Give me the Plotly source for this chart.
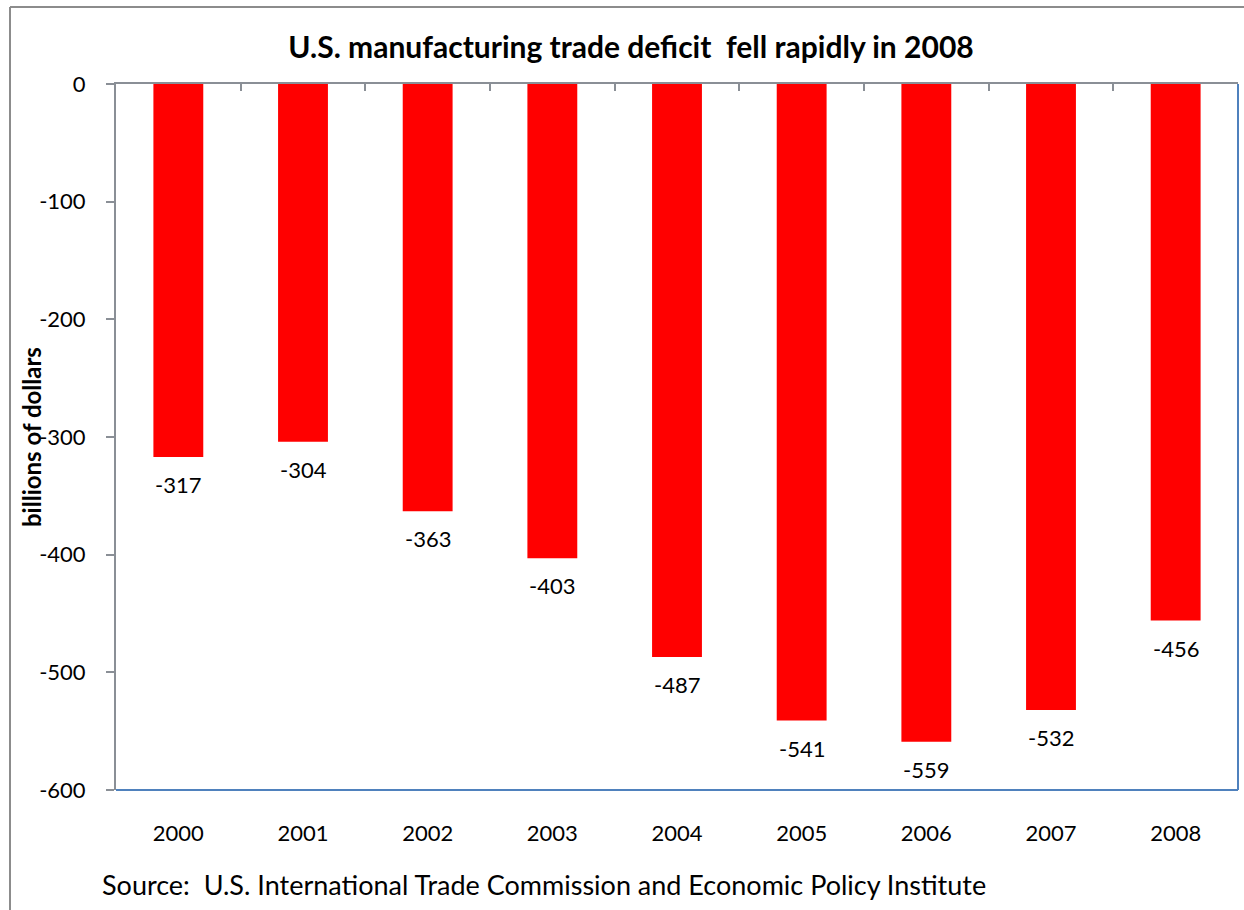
import plotly.graph_objects as go

years = ["2000", "2001", "2002", "2003", "2004", "2005", "2006", "2007", "2008"]
deficit = [-317, -304, -363, -403, -487, -541, -559, -532, -456]
y_ticks = [0, -100, -200, -300, -400, -500, -600]

title = "U.S. manufacturing trade deficit  fell rapidly in 2008"
y_title = "billions of dollars"
source = "Source:  U.S. International Trade Commission and Economic Policy Institute"

FONT = "Lato"
GRAY = "#8a8f96"
BLUE = "#4f81bd"

W, H = 1244, 910
ML, MR, MT, MB = 116, 6, 84, 120
PW, PH = W - ML - MR, H - MT - MB

def px_x(x):
    return (x - ML) / PW

def px_y(y):
    return (H - MB - y) / PH

fig = go.Figure()
fig.add_trace(go.Bar(
    x=years, y=deficit,
    marker=dict(color="#ff0000", line=dict(width=0)),
    width=0.4,
    showlegend=False,
))
# helper trace so the top axis (category boundaries) is drawn
fig.add_trace(go.Scatter(x=[0], y=[0], xaxis="x2", mode="markers",
                         marker=dict(opacity=0), showlegend=False, hoverinfo="skip"))

# data labels below each bar end (category index used as x position)
for i, v in enumerate(deficit):
    fig.add_annotation(x=i, y=v, xref="x", yref="y", text=str(v), showarrow=False,
                       xanchor="center", yanchor="top", yshift=-12,
                       font=dict(family=FONT, size=22, color="#000000"))

fig.update_layout(
    width=W, height=H,
    margin=dict(l=ML, r=MR, t=MT, b=MB),
    paper_bgcolor="white", plot_bgcolor="white",
    font=dict(family=FONT, color="#000000"),
    bargap=0.6,
    title=dict(text="<b>" + title + "</b>", x=px_x(631), xref="paper", xanchor="center",
               y=1 - 47 / H, yref="container", yanchor="middle",
               font=dict(family=FONT, size=30, color="#000000")),
    xaxis=dict(type="category", range=[-0.5, 8.5], showgrid=False, zeroline=False,
               showline=False, ticks="", ticklabelstandoff=28,
               tickfont=dict(family=FONT, size=22, color="#000000")),
    xaxis2=dict(overlaying="x", side="top", range=[-0.5, 8.5], anchor="y",
                tickmode="array", tickvals=[i - 0.5 for i in range(len(years) + 1)],
                showticklabels=False, ticks="inside", ticklen=7, tickwidth=2,
                tickcolor=GRAY, showline=True, linecolor=GRAY, linewidth=2,
                showgrid=False, zeroline=False),
    yaxis=dict(range=[-600, 0], tickmode="array", tickvals=y_ticks,
               ticktext=[str(v) for v in y_ticks],
               ticks="outside", ticklen=8, tickwidth=2, tickcolor=GRAY,
               showline=True, linecolor=GRAY, linewidth=2,
               showgrid=False, zeroline=False, ticklabelstandoff=16,
               tickfont=dict(family=FONT, size=22, color="#000000")),
)

# y-axis title
fig.add_annotation(text="<b>" + y_title + "</b>", xref="paper", yref="paper",
                   x=px_x(31), y=px_y(437), textangle=-90, showarrow=False,
                   xanchor="center", yanchor="middle",
                   font=dict(family=FONT, size=24, color="#000000"))

# plot-area border (right and bottom) and outer chart frame
fig.add_shape(type="line", xref="paper", yref="paper", x0=1, x1=1, y0=0, y1=1,
              line=dict(color=BLUE, width=2))
fig.add_shape(type="line", xref="paper", yref="paper", x0=0, x1=1, y0=0, y1=0,
              line=dict(color=BLUE, width=2))
fig.add_shape(type="line", xref="paper", yref="paper", x0=px_x(10), x1=px_x(10),
              y0=px_y(7), y1=px_y(H + 5), line=dict(color="#8c8c8c", width=2))
fig.add_shape(type="line", xref="paper", yref="paper", x0=px_x(10), x1=px_x(W + 5),
              y0=px_y(7), y1=px_y(7), line=dict(color="#8c8c8c", width=2))

fig.add_annotation(text=source, xref="paper", yref="paper", x=px_x(100), y=px_y(884),
                   xanchor="left", yanchor="middle", showarrow=False,
                   font=dict(family=FONT, size=27, color="#000000"))

fig.write_html("out.html")
